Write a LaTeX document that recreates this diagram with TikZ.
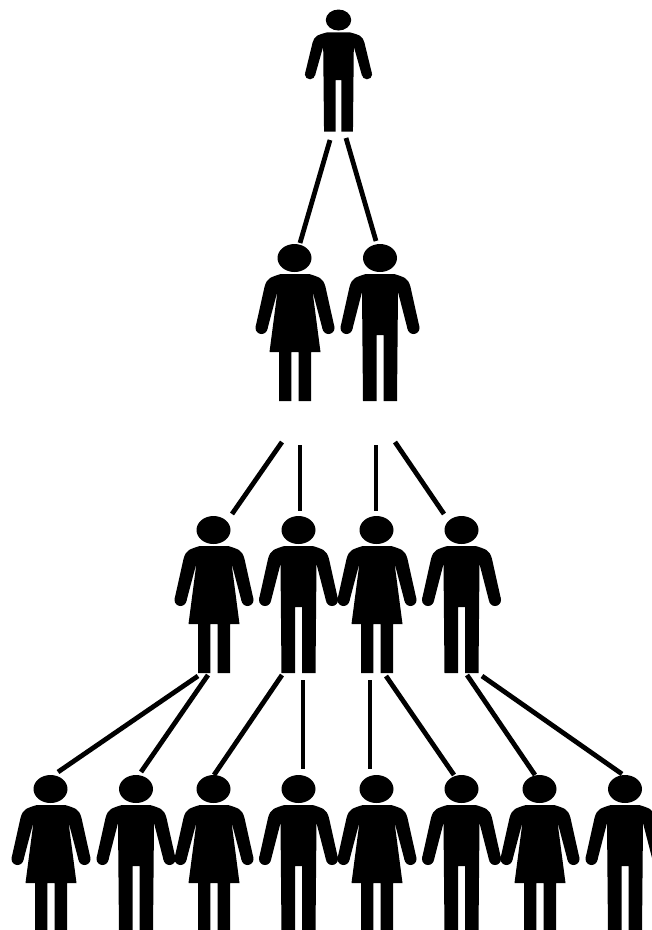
\documentclass[tikz,border=0pt]{standalone}
\newcommand{\fighands}{
  \fill (33.5,70) circle [radius=6];
  \fill (-33.5,70) circle [radius=6];
}
\tikzset{
  x=1pt,y=-1pt,
  head/.pic={\fill (0,0) ellipse [x radius=17, y radius=14];},
  smallhead/.pic={\fill (0,0) ellipse [x radius=12.7, y radius=10.5];},
  man/.pic={
    \fighands
    \fill (-14,16) -- (14,16) .. controls (18,17) and (22,18.5) .. (25,20)
      .. controls (28,22) and (29.5,25) .. (30.5,29) -- (39.35,68.65) -- (27.65,71.35) -- (18,34)
      -- (17,143) -- (3.5,143) -- (3.5,77) -- (-3.5,77) -- (-3.5,143) -- (-17,143) -- (-18,34)
      -- (-27.65,71.35) -- (-39.35,68.65) -- (-30.5,29) .. controls (-29.5,25) and (-28,22) .. (-25,20)
      .. controls (-22,18.5) and (-18,17) .. (-14,16) -- cycle;
  },
  woman/.pic={
    \fighands
    \fill (-14,16) -- (14,16) .. controls (18,17) and (22,18.5) .. (25,20)
      .. controls (28,22) and (29.5,25) .. (30.5,29) -- (39.35,68.65) -- (27.65,71.35) -- (17.5,33)
      -- (25.5,94) -- (16,94) -- (16,143) -- (3.7,143) -- (3.7,94) -- (-3.7,94) -- (-3.7,143)
      -- (-16,143) -- (-16,94) -- (-25.5,94) -- (-17.5,33)
      -- (-27.65,71.35) -- (-39.35,68.65) -- (-30.5,29) .. controls (-29.5,25) and (-28,22) .. (-25,20)
      .. controls (-22,18.5) and (-18,17) .. (-14,16) -- cycle;
  },
  link/.style={draw=black,line width=4.8pt,line cap=butt}
}
\begin{document}
\begin{tikzpicture}
\clip (0,0) rectangle (652,930);
\fill[white] (0,0) rectangle (652,930);
% heads
\pic (toph) at (338.5,20) {smallhead};
\foreach \hx/\hy in {294.5/258,380/258,213.5/530,298.5/530,376.5/530,461.5/530,
  50.5/789,136/789,213.5/789,298.5/789,376.5/789,461.5/789,539.5/789,625/789}
  \pic at (\hx,\hy) {head};
% figures
\pic[xscale=.85,yscale=.78] (top) at (338.5,20) {man};
\pic (l2a) at (295,258) {woman};
\pic (l2b) at (380,258) {man};
\pic (l3a) at (214,530) {woman};
\pic (l3b) at (298.5,530) {man};
\pic (l3c) at (377,530) {woman};
\pic (l3d) at (461.5,530) {man};
\pic (l4a) at (51,789) {woman};
\pic (l4b) at (136,789) {man};
\pic (l4c) at (214,789) {woman};
\pic (l4d) at (298.5,789) {man};
\pic (l4e) at (377,789) {woman};
\pic (l4f) at (461.5,789) {man};
\pic (l4g) at (540,789) {woman};
\pic (l4h) at (625,789) {man};
% connector ends
\coordinate (a1) at (330,140); \coordinate (a2) at (300,243);
\coordinate (b1) at (346,138); \coordinate (b2) at (376,241);
\coordinate (c1) at (282,442); \coordinate (c2) at (232,514);
\coordinate (d1) at (300,445); \coordinate (d2) at (300,511);
\coordinate (e1) at (376,445); \coordinate (e2) at (376,511);
\coordinate (f1) at (395,442); \coordinate (f2) at (444,514);
\coordinate (g1) at (198,676); \coordinate (g2) at (58,772);
\coordinate (h1) at (208,675); \coordinate (h2) at (141,772);
\coordinate (i1) at (282,675); \coordinate (i2) at (214,775);
\coordinate (j1) at (303,680); \coordinate (j2) at (303,769);
\coordinate (k1) at (370,680); \coordinate (k2) at (370,769);
\coordinate (m1) at (386,676); \coordinate (m2) at (454,775);
\coordinate (n1) at (467,675); \coordinate (n2) at (535,775);
\coordinate (o1) at (482,676); \coordinate (o2) at (622,774);
\foreach \p in {a,b,c,d,e,f,g,h,i,j,k,m,n,o}
  \draw[link] (\p1) -- (\p2);
\end{tikzpicture}
\end{document}
